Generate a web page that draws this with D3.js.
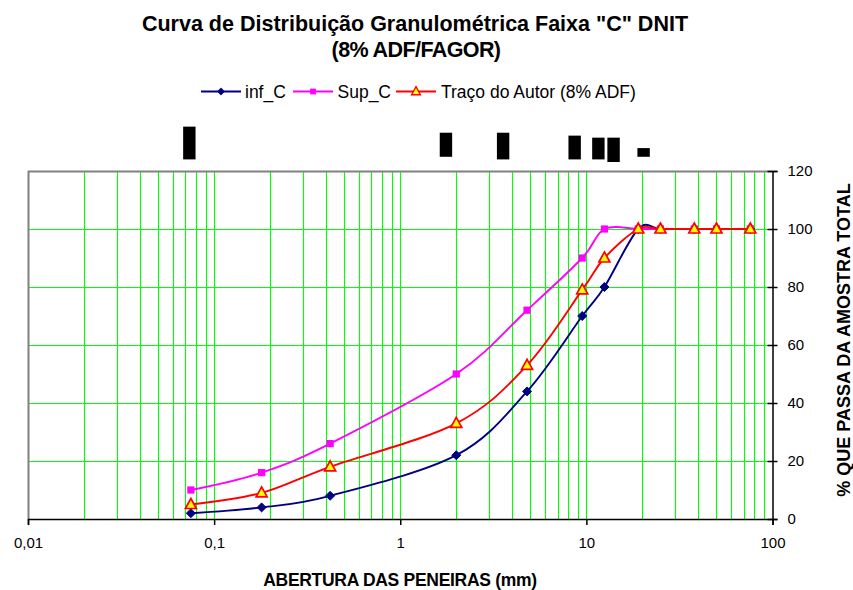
<!DOCTYPE html>
<html>
<head>
<meta charset="utf-8">
<script src="https://cdn.jsdelivr.net/npm/d3@7"></script>
<style>
  html, body { margin: 0; padding: 0; background: #fff; }
  svg { display: block; font-family: "Liberation Sans", Arial, sans-serif; }
</style>
</head>
<body>
<svg id="chart" width="853" height="590"></svg>
<script>
// Sieve openings (mm) and percent passing for each curve
const sieves = [0.075, 0.18, 0.42, 2.0, 4.8, 9.5, 12.5, 19, 25, 38, 50, 76];
const infC   = [2, 4, 8, 22, 44, 70, 80, 100, 100, 100, 100, 100];
const supC   = [10, 16, 26, 50, 72, 90, 100, 100, 100, 100, 100, 100];
const autor  = [5, 9, 18, 33, 53, 79, 90, 100, 100, 100, 100, 100];

const seriesNames = ["inf_C", "Sup_C", "Traço do Autor (8% ADF)"];
const xTickValues = [0.01, 0.1, 1, 10, 100];
const xTickLabels = ["0,01", "0,1", "1", "10", "100"];
const yTickValues = [0, 20, 40, 60, 80, 100, 120];

// Black label blocks floating above the plot: sieve position (mm), top and bottom (% scale)
const blockX      = [0.0736, 1.76, 3.57, 8.65, 11.6, 14.0, 20.3];
const blockTop    = [135.3, 133.2, 133.2, 132.2, 131.5, 131.5, 127.9];
const blockBottom = [124.0, 124.9, 124.0, 124.0, 124.0, 123.1, 124.9];

const svg = d3.select("#chart");
const plotLeft = 28, plotRight = 772.5, plotTop = 171, plotBottom = 519;

const x = d3.scaleLog().domain([0.01, 100]).range([plotLeft, plotRight]);
const y = d3.scaleLinear().domain([0, 120]).range([plotBottom, plotTop]);

// Title
const title = svg.append("g").attr("font-weight", "bold").attr("font-size", 21.5)
  .attr("text-anchor", "middle").attr("fill", "#000");
title.append("text").attr("x", 415).attr("y", 31).text('Curva de Distribuição Granulométrica Faixa "C" DNIT');
title.append("text").attr("x", 416).attr("y", 57).attr("letter-spacing", -0.6).text("(8% ADF/FAGOR)");

// Vertical grid: every 2..10 step inside each decade
const gridX = [];
for (let e = -2; e < 2; e++) {
  for (let m = 2; m <= 10; m++) gridX.push(m * Math.pow(10, e));
}
const grid = svg.append("g");
grid.selectAll("line.v").data(gridX.filter(v => v < 100)).join("line")
  .attr("class", "v")
  .attr("x1", d => Math.round(x(d)) + 0.5).attr("x2", d => Math.round(x(d)) + 0.5)
  .attr("y1", plotTop).attr("y2", plotBottom)
  .attr("stroke", "#00ff00").attr("stroke-width", 1.1);
grid.selectAll("line.h").data([20, 40, 60, 80, 100]).join("line")
  .attr("class", "h")
  .attr("x1", plotLeft).attr("x2", plotRight)
  .attr("y1", d => Math.round(y(d)) + 0.5).attr("y2", d => Math.round(y(d)) + 0.5)
  .attr("stroke", "#00ff00").attr("stroke-width", 1.1);

// Plot frame: grey top and left edges
svg.append("path")
  .attr("d", `M${plotLeft + 0.5},${plotBottom} V${plotTop + 0.5} H${plotRight}`)
  .attr("fill", "none").attr("stroke", "#808080").attr("stroke-width", 2);

// Bottom axis
const xAxis = d3.axisBottom(x).tickValues(xTickValues)
  .tickFormat((d, i) => xTickLabels[i]).tickSize(6).tickPadding(12);
const gx = svg.append("g").attr("transform", `translate(0,${plotBottom})`).call(xAxis);
gx.select(".domain").attr("stroke", "#000").attr("stroke-width", 1.5);
gx.selectAll(".tick line").attr("stroke", "#000").attr("stroke-width", 1.5);
gx.selectAll(".tick text").attr("font-size", 15).attr("fill", "#000")
  .attr("font-family", "Liberation Sans, Arial, sans-serif");

// Right axis with crossing ticks
const yAxis = d3.axisRight(y).tickValues(yTickValues).tickSize(5).tickPadding(10);
const gy = svg.append("g").attr("transform", `translate(${plotRight},0)`).call(yAxis);
gy.select(".domain").attr("stroke", "#000").attr("stroke-width", 1.5);
gy.selectAll(".tick line").attr("x1", -5).attr("stroke", "#000").attr("stroke-width", 1.5);
gy.selectAll(".tick text").attr("font-size", 15).attr("fill", "#000")
  .attr("font-family", "Liberation Sans, Arial, sans-serif");

// Axis titles
svg.append("text").attr("x", 400).attr("y", 586).attr("text-anchor", "middle")
  .attr("font-weight", "bold").attr("font-size", 17.5).attr("letter-spacing", -0.3)
  .text("ABERTURA DAS PENEIRAS  (mm)");
svg.append("text").attr("transform", `translate(850,340) rotate(-90)`).attr("text-anchor", "middle")
  .attr("font-weight", "bold").attr("font-size", 18).text("% QUE PASSA DA AMOSTRA TOTAL");

// Black blocks above the plot
svg.append("g").selectAll("rect").data(blockX).join("rect")
  .attr("x", d => x(d) - 6.2).attr("width", 12.4)
  .attr("y", (d, i) => y(blockTop[i]))
  .attr("height", (d, i) => y(blockBottom[i]) - y(blockTop[i]))
  .attr("fill", "#000");

// Curves
const series = [
  { name: seriesNames[0], values: infC,  color: "#000080", marker: "diamond" },
  { name: seriesNames[1], values: supC,  color: "#ff00ff", marker: "square" },
  { name: seriesNames[2], values: autor, color: "#ff0000", marker: "triangle" }
];

const line = d3.line()
  .x(d => x(d[0])).y(d => y(d[1]))
  .curve(d3.curveCardinal.tension(0));

function drawMarker(g, type, color) {
  if (type === "diamond") {
    g.append("path").attr("d", "M0,-4.5 L4.5,0 L0,4.5 L-4.5,0 Z").attr("fill", color).attr("stroke", color).attr("stroke-width", 1);
  } else if (type === "square") {
    g.append("path").attr("d", d3.symbol(d3.symbolSquare, 52)()).attr("fill", color);
  } else {
    g.append("path").attr("d", "M0,-6 L5.5,4 L-5.5,4 Z").attr("fill", "#ffff00")
      .attr("stroke", color).attr("stroke-width", 1.7).attr("stroke-linejoin", "miter");
  }
}

series.forEach(s => {
  const pts = sieves.map((v, i) => [v, s.values[i]]);
  svg.append("path").datum(pts).attr("d", line)
    .attr("fill", "none").attr("stroke", s.color).attr("stroke-width", 1.9);
  pts.forEach(p => {
    const g = svg.append("g").attr("transform", `translate(${x(p[0])},${y(p[1])})`);
    drawMarker(g, s.marker, s.color);
  });
});

// Legend
const legendItems = [
  { lx: 201, tx: 245, s: series[0] },
  { lx: 293, tx: 337.5, s: series[1] },
  { lx: 396, tx: 441, s: series[2] }
];
const legendY = 91.5;
const legend = svg.append("g");
legendItems.forEach(it => {
  legend.append("line").attr("x1", it.lx).attr("x2", it.lx + 40).attr("y1", legendY).attr("y2", legendY)
    .attr("stroke", it.s.color).attr("stroke-width", 1.8);
  const g = legend.append("g").attr("transform", `translate(${it.lx + 20},${legendY}) scale(0.8)`);
  drawMarker(g, it.s.marker, it.s.color);
  legend.append("text").attr("x", it.tx).attr("y", legendY + 6.5).attr("font-size", 17.5).attr("fill", "#000")
    .text(it.s.name);
});
</script>
</body>
</html>
